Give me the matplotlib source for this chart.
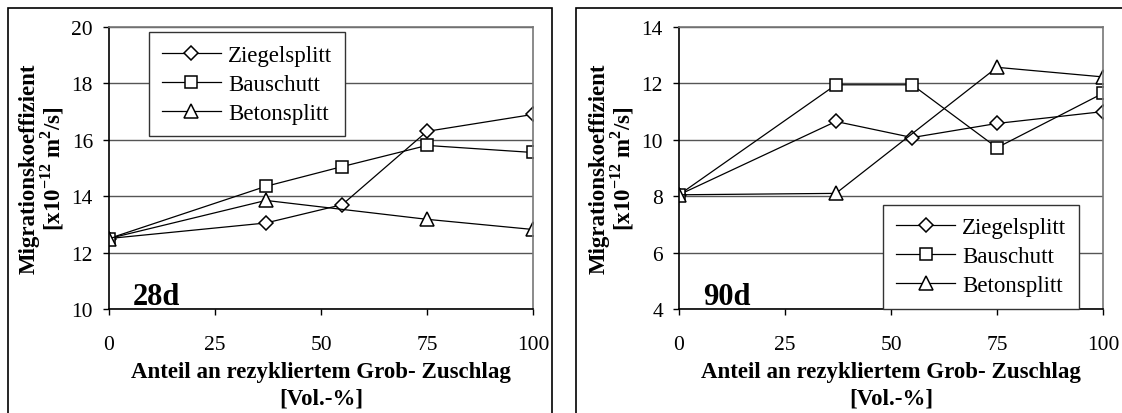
import matplotlib
matplotlib.use('Agg')
import matplotlib.pyplot as plt
from matplotlib.patches import Rectangle

plt.rcParams['font.family'] = ['Liberation Serif', 'DejaVu Serif']
plt.rcParams['mathtext.fontset'] = 'custom'
plt.rcParams['mathtext.rm'] = 'Liberation Serif'
plt.rcParams['mathtext.bf'] = 'Liberation Serif:bold'

# Anteil an rezykliertem Grobzuschlag [Vol.-%]
anteil = [0, 37, 55, 75, 100]
anteil_beton = [0, 37, 75, 100]

# 28 Tage
ziegel_28 = [12.5, 13.05, 13.7, 16.3, 16.9]
bauschutt_28 = [12.5, 14.35, 15.05, 15.8, 15.55]
beton_28 = [12.5, 13.85, 13.18, 12.82]

# 90 Tage
ziegel_90 = [8.05, 10.65, 10.08, 10.58, 11.0]
bauschutt_90 = [8.05, 11.95, 11.95, 9.72, 11.65]
beton_90 = [8.05, 8.1, 12.57, 12.23]

serien = ['Ziegelsplitt', 'Bauschutt', 'Betonsplitt']
xticks = [0, 25, 50, 75, 100]

W, H = 1122, 414
fig = plt.figure(figsize=(W / 100, H / 100), dpi=100)

# Rahmen um die beiden Diagramme (unten und rechts abgeschnitten)
for x0, x1 in [(8, 552), (576, 1130)]:
    fig.patches.append(Rectangle((x0 / W, -0.05), (x1 - x0) / W, 1 - 9 / H + 0.05,
                                 transform=fig.transFigure, fill=False,
                                 edgecolor='black', linewidth=1.2))


def panel(ax, ziegel, bauschutt, beton, ylim, yticks, tag, legend_loc, legend_anchor):
    stil = dict(color='black', linewidth=0.9, markerfacecolor='white',
                markeredgecolor='black', markeredgewidth=1.1)
    ax.plot(anteil, ziegel, marker='D', markersize=7.5, label=serien[0], **stil)
    ax.plot(anteil, bauschutt, marker='s', markersize=8.5, label=serien[1], **stil)
    ax.plot(anteil_beton, beton, marker='^', markersize=10, label=serien[2], **stil)

    ax.set_xlim(0, 100)
    ax.set_ylim(*ylim)
    ax.set_xticks(xticks)
    ax.set_yticks(yticks)
    ax.yaxis.grid(True, color='#555555', linewidth=1.0)
    ax.set_axisbelow(True)
    for s in ['top', 'right']:
        ax.spines[s].set_color('#777777')
        ax.spines[s].set_linewidth(1.2)
    for s in ['left', 'bottom']:
        ax.spines[s].set_color('black')
        ax.spines[s].set_linewidth(1.2)
    ax.tick_params(direction='out', length=4.5, width=1, labelsize=15.5, pad=7)
    ax.tick_params(axis='x', pad=14)

    ax.set_xlabel('Anteil an rezykliertem Grob- Zuschlag\n[Vol.-%]',
                  fontsize=16.5, fontweight='bold', linespacing=1.35, labelpad=5)
    ax.set_ylabel('Migrationskoeffizient\n[x10$^{\\mathbf{-12}}$ m$^{\\mathbf{2}}$/s]',
                  fontsize=16.5, fontweight='bold', linespacing=0.95, labelpad=4)
    ax.text(0.057, 5 / 282, tag, transform=ax.transAxes, fontsize=22,
            fontweight='bold', ha='left', va='baseline')

    leg = ax.legend(loc=legend_loc, bbox_to_anchor=legend_anchor, fontsize=16.5,
                    frameon=True, fancybox=False, edgecolor='#333333', framealpha=1,
                    handlelength=2.6, borderpad=0.55, labelspacing=0.35,
                    handletextpad=0.3, borderaxespad=0)
    leg.get_frame().set_linewidth(1.0)


ax1 = fig.add_axes([109 / W, 1 - 310 / H, 424 / W, 282 / H])
panel(ax1, ziegel_28, bauschutt_28, beton_28, (10, 20), [10, 12, 14, 16, 18, 20],
      '28d', 'upper left', (40 / 424, 1 - 5 / 282))

ax2 = fig.add_axes([679 / W, 1 - 310 / H, 424 / W, 282 / H])
panel(ax2, ziegel_90, bauschutt_90, beton_90, (4, 14), [4, 6, 8, 10, 12, 14],
      '90d', 'lower right', (1 - 24 / 424, 0.0))

fig.savefig('out.png', dpi=100)
